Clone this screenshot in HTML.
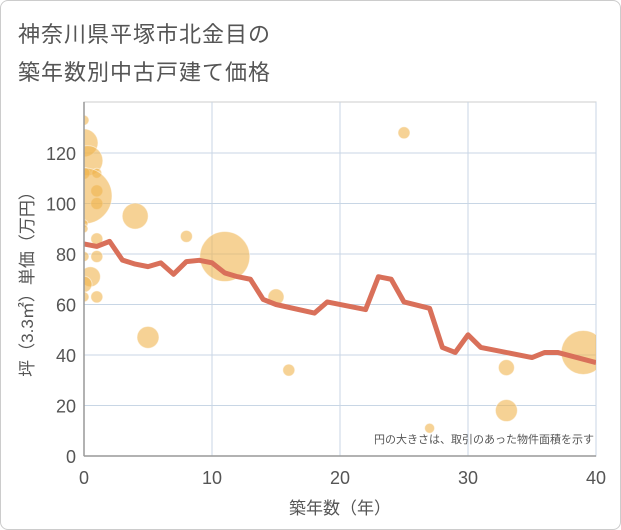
<!DOCTYPE html>
<html><head><meta charset="utf-8"><style>
body{margin:0;background:#fff;}
#wrap{position:relative;width:619px;height:528px;border:1px solid #ccc;border-radius:8px;background:#fff;overflow:hidden;font-family:"Liberation Sans","Noto Sans CJK JP",sans-serif;}
.title{position:absolute;left:17px;color:#555;font-size:22px;letter-spacing:1px;}
</style></head><body>
<div id="wrap">
<div class="title" style="top:16px">神奈川県平塚市北金目の</div>
<div class="title" style="top:54px">築年数別中古戸建て価格</div>
<svg id="chart" width="621" height="530" style="position:absolute;left:-1px;top:-1px">
<defs><clipPath id="plotclip"><rect x="84" y="102" width="512" height="354"/></clipPath></defs>
<g id="marks" clip-path="url(#plotclip)"></g>
</svg>
</div>
<script>
const xTicks=[0,10,20,30,40];
const yTicks=[0,20,40,60,80,100,120];
const lineYears=[0,1,2,3,4,5,6,7,8,9,10,11,12,13,14,15,18,19,22,23,24,25,27,28,29,30,31,35,36,37,40];
const lineValues=[84,83,85,77.6,76,75,76.5,72,77,77.5,76.5,72.5,71,70,62,60,56.6,61,58,71,70,61,58.5,43,41,48,43,39,41,41,37];
const bubbleX=[0,0,0.3,0,1,1,1,0,4,8,0,0,1,1,0,11,0.5,0,1,0,5,15,16,25,27,33,33,39];
const bubbleY=[133,124,117,112,112,105,100,103,95,87,92,90,86,79,79,79,71,68,63,63,47,63,34,128,11,35,18,41];
const bubbleR=[5,14,15,6,5,6,6,28,13,6,4,4,6,6,5,25,10,8,6,5,11,8,6,6,5,8,11,22];
const svg=document.getElementById('chart');
const marks=document.getElementById('marks');
const NS='http://www.w3.org/2000/svg';
const X0=84,X1=596,Y0=456,YT=102;
const xs=v=>X0+(X1-X0)*v/40;
const ys=v=>Y0-v*2.525;
function mk(t,a,p){const e=document.createElementNS(NS,t);for(const k in a)e.setAttribute(k,a[k]);(p||svg).appendChild(e);return e;}
let r=mk('rect',{x:X0,y:YT,width:X1-X0,height:Y0-YT,fill:'none',stroke:'#ccc'});


svg.insertBefore(r,marks);
yTicks.forEach(t=>{
 const g=mk('line',{x1:X0,x2:X1,y1:ys(t),y2:ys(t),stroke:'#c8d6e5','stroke-width':1});
 
 
 svg.insertBefore(g,marks);
 const l=mk('text',{x:76,y:ys(t)+7,'text-anchor':'end','font-size':18,fill:'#555'});
 l.textContent=t;
 
 
});
xTicks.forEach(t=>{
 const g=mk('line',{x1:xs(t),x2:xs(t),y1:YT,y2:Y0,stroke:'#c8d6e5','stroke-width':1});
 
 
 svg.insertBefore(g,marks);
 const l=mk('text',{x:xs(t),y:484,'text-anchor':'middle','font-size':18,fill:'#555'});
 l.textContent=t;
 
 
});
bubbleX.forEach((v,i)=>{
 const c=mk('circle',{cx:xs(v),cy:ys(bubbleY[i]),r:bubbleR[i],fill:'#f0b44f','fill-opacity':0.6,stroke:'#fff','stroke-opacity':0.5,'stroke-width':1},marks);
 
 
});
const pts=lineYears.map((v,i)=>xs(v)+','+ys(lineValues[i])).join(' ');
const pl=mk('polyline',{points:pts,fill:'none',stroke:'#d9705a','stroke-width':5,'stroke-linejoin':'round'},marks);


let ax=mk('line',{x1:X0,x2:X0,y1:YT,y2:Y0,stroke:'#999','stroke-width':1.5});


let ax2=mk('line',{x1:X0,x2:X1,y1:Y0,y2:Y0,stroke:'#999','stroke-width':1.5});


const xt=mk('text',{x:340,y:514,'text-anchor':'middle','font-size':17,fill:'#555'});
xt.textContent='築年数（年）';


const yt=mk('text',{x:0,y:0,'text-anchor':'middle','font-size':17,fill:'#555',transform:'translate(33,280) rotate(-90)'});
yt.textContent='坪（3.3㎡）単価（万円）';


const note=mk('text',{x:594,y:443,'text-anchor':'end','font-size':11,fill:'#555'});
note.textContent='円の大きさは、取引のあった物件面積を示す';


</script>
</body></html>
